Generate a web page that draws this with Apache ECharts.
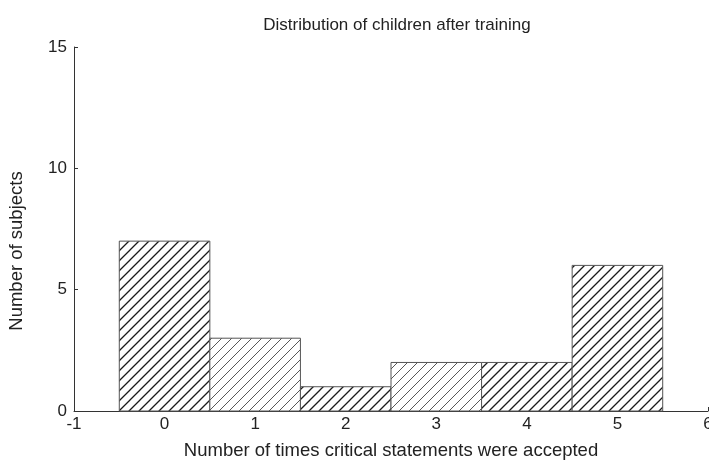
<!DOCTYPE html>
<html>
<head>
<meta charset="utf-8">
<script src="https://cdn.jsdelivr.net/npm/echarts@6/dist/echarts.min.js"></script>
<style>
  html, body { margin: 0; padding: 0; background: #fff; }
  #chart { width: 709px; height: 461px; }
</style>
</head>
<body>
<div id="chart"></div>
<script>
// Histogram: children grouped by how many critical statements they accepted
const categories = [0, 1, 2, 3, 4, 5];
const subjects = [7, 3, 1, 2, 2, 6];
const xTicks = [-1, 0, 1, 2, 3, 4, 5, 6];
const yTicks = [0, 5, 10, 15];

// Diagonal hatch tile ("/" lines)
function hatch(color, width) {
  const s = 10;
  const c = document.createElement('canvas');
  c.width = s; c.height = s;
  const g = c.getContext('2d');
  g.fillStyle = '#fff';
  g.fillRect(0, 0, s, s);
  g.strokeStyle = color;
  g.lineWidth = width;
  g.beginPath();
  g.moveTo(-1, s + 1); g.lineTo(s + 1, -1);
  g.moveTo(-1, 1); g.lineTo(1, -1);
  g.moveTo(s - 1, s + 1); g.lineTo(s + 1, s - 1);
  g.stroke();
  return c;
}
const darkHatch = hatch('#1a1a1a', 1.3);
const lightHatch = hatch('#444', 0.9);
const hatchFor = [darkHatch, lightHatch, darkHatch, lightHatch, darkHatch, darkHatch];

const font = '"Liberation Sans", Arial, sans-serif';
const chart = echarts.init(document.getElementById('chart'));
chart.setOption({
  animation: false,
  backgroundColor: '#fff',
  title: {
    text: 'Distribution of children after training',
    left: 392, top: 12, textAlign: 'center',
    textStyle: { fontFamily: font, fontSize: 17, fontWeight: 'normal', color: '#222' }
  },
  grid: { left: 74, right: 1, top: 47, bottom: 50, outerBoundsMode: 'none' },
  xAxis: {
    type: 'value', min: xTicks[0], max: xTicks[xTicks.length - 1], interval: 1,
    name: 'Number of times critical statements were accepted',
    nameLocation: 'middle', nameGap: 30,
    nameTextStyle: { fontFamily: font, fontSize: 18.5, color: '#222' },
    axisLine: { onZero: false, lineStyle: { color: '#333', width: 1 } },
    axisTick: { inside: true, length: 4, lineStyle: { color: '#333' } },
    axisLabel: { fontFamily: font, fontSize: 17, color: '#222', margin: 5, hideOverlap: false },
    splitLine: { show: false }
  },
  yAxis: {
    type: 'value', min: yTicks[0], max: yTicks[yTicks.length - 1], interval: 5,
    name: 'Number of subjects',
    nameLocation: 'middle', nameGap: 48,
    nameTextStyle: { fontFamily: font, fontSize: 18.5, color: '#222', padding: [0, 44, 0, 0] },
    axisLine: { show: true, onZero: false, lineStyle: { color: '#333', width: 1 } },
    axisTick: { show: true, inside: true, length: 4, lineStyle: { color: '#333' } },
    axisLabel: { fontFamily: font, fontSize: 17, color: '#222', margin: 7 },
    splitLine: { show: false }
  },
  series: [{
    type: 'custom',
    data: categories.map((c, i) => [c, subjects[i]]),
    renderItem: function (params, api) {
      const x = api.value(0), y = api.value(1);
      const p0 = api.coord([x - 0.5, y]);
      const p1 = api.coord([x + 0.5, 0]);
      return {
        type: 'rect',
        shape: { x: p0[0], y: p0[1], width: p1[0] - p0[0], height: p1[1] - p0[1] },
        style: {
          fill: { image: hatchFor[params.dataIndex], repeat: 'repeat' },
          stroke: '#555', lineWidth: 1
        }
      };
    }
  }]
});
</script>
</body>
</html>
